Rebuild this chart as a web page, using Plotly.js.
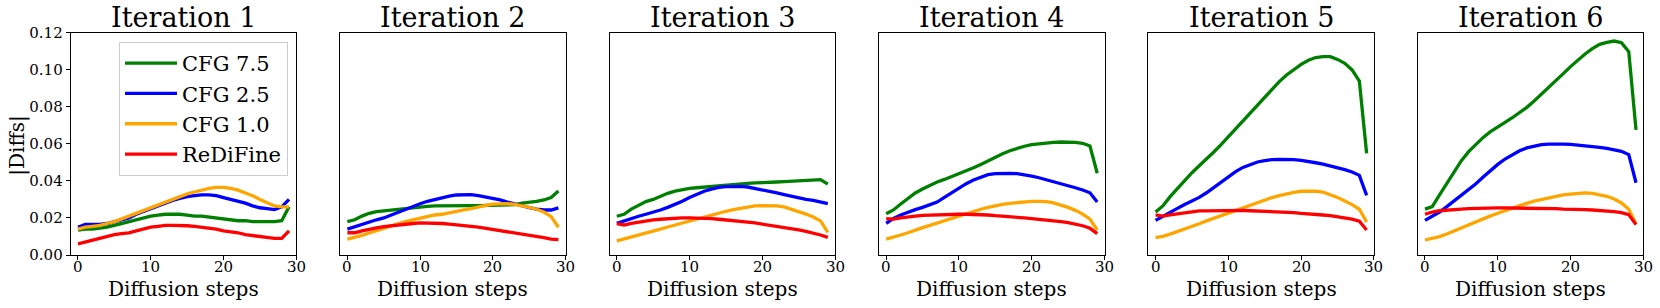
<!DOCTYPE html>
<html>
<head>
<meta charset="utf-8">
<script src="https://cdn.plot.ly/plotly-3.0.1.min.js"></script>
<style>html,body{margin:0;padding:0;background:#fff;}#chart{width:1660px;height:308px;}</style>
</head>
<body>
<div id="chart"></div>
<script>
const steps = [0,1,2,3,4,5,6,7,8,9,10,11,12,13,14,15,16,17,18,19,20,21,22,23,24,25,26,27,28,29];
const panelTitles = ["Iteration 1","Iteration 2","Iteration 3","Iteration 4","Iteration 5","Iteration 6"];
const seriesNames = ["CFG 7.5","CFG 2.5","CFG 1.0","ReDiFine"];
const seriesColors = ["#008000","#0000ff","#ffa500","#ff0000"];
const yTickVals = [0,0.02,0.04,0.06,0.08,0.10,0.12];
const xTickVals = [0,10,20,30];
const xTickText = ["0","10","20","30"];

const cfg75 = [
  [.0135,.014,.014,.0145,.015,.016,.017,.018,.019,.020,.021,.0215,.022,.022,.022,.0215,.021,.021,.0205,.020,.0195,.019,.0185,.0185,.018,.018,.018,.018,.0185,.026],
  [.018,.019,.021,.0225,.0234,.0238,.0243,.025,.0254,.0257,.026,.0263,.0265,.0266,.0266,.0266,.0266,.0266,.0266,.0267,.027,.027,.027,.0272,.028,.0284,.029,.0297,.031,.0345],
  [.0209,.022,.0248,.027,.0288,.030,.0318,.0333,.0345,.0354,.036,.0363,.0367,.037,.0374,.0378,.038,.0385,.0387,.0389,.0392,.0392,.0394,.0396,.0398,.040,.0401,.0403,.0407,.0383],
  [.0223,.0243,.0275,.0306,.0335,.0356,.0376,.0394,.0408,.0423,.0437,.0453,.0471,.0489,.0509,.0527,.0547,.0563,.0576,.0587,.0596,.0601,.0605,.0608,.061,.061,.0608,.0603,.0588,.0441],
  [.0232,.0265,.0315,.036,.0405,.0444,.0482,.0518,.0556,.0596,.0639,.0682,.0725,.0768,.0813,.0855,.0896,.0936,.0972,.1002,.1029,.1051,.1066,.1071,.1071,.1056,.1035,.0999,.0939,.0549],
  [.0248,.0261,.0324,.0387,.045,.0509,.0558,.0599,.0635,.0666,.0693,.0716,.0741,.0768,.0797,.0831,.0867,.0903,.0941,.0979,.1017,.1053,.1085,.1114,.1137,.1148,.1155,.1146,.1098,.0675]
];
const cfg25 = [
  [.015,.0165,.0165,.0165,.017,.018,.019,.020,.022,.0235,.025,.0265,.028,.0295,.0305,.0315,.032,.0325,.0325,.032,.031,.030,.029,.028,.0265,.0255,.025,.0245,.026,.030],
  [.014,.0153,.0167,.018,.019,.020,.0216,.023,.0247,.026,.0277,.029,.030,.031,.0318,.0324,.0326,.0326,.032,.0313,.0306,.0297,.0286,.0275,.0265,.0256,.0248,.0243,.0243,.0254],
  [.0171,.0185,.0198,.0209,.022,.023,.0243,.0257,.0273,.029,.031,.0327,.0344,.0356,.0365,.0369,.037,.037,.0367,.036,.0353,.0344,.0335,.0326,.0317,.0308,.030,.0295,.0288,.0277],
  [.0171,.0198,.0216,.0232,.0245,.0257,.027,.0286,.0311,.0336,.0363,.0385,.0405,.0421,.0434,.0439,.0441,.0441,.0439,.0434,.0426,.0417,.0407,.0396,.0385,.0374,.0363,.0351,.0336,.0286],
  [.0187,.021,.023,.0252,.0273,.0291,.0311,.0336,.0365,.0394,.0423,.045,.0473,.0489,.0502,.0509,.0515,.0516,.0516,.0515,.0511,.0506,.0498,.0491,.0482,.0471,.0461,.0448,.043,.0322],
  [.0187,.0207,.0232,.0261,.0291,.0322,.0353,.0385,.0421,.0457,.0489,.0518,.0543,.0563,.0578,.0588,.0596,.0599,.0601,.0599,.0597,.0594,.059,.0587,.0581,.0576,.0569,.056,.0542,.039]
];
const cfg10 = [
  [.014,.015,.0155,.016,.017,.018,.0195,.021,.0225,.024,.0255,.027,.0285,.030,.0315,.033,.034,.035,.036,.0365,.0365,.036,.035,.0335,.032,.030,.028,.0265,.026,.026],
  [.0086,.0095,.0106,.0119,.013,.0144,.0157,.017,.018,.019,.020,.021,.0216,.022,.0229,.0236,.0243,.025,.026,.0268,.0275,.0277,.0277,.0273,.0266,.0257,.0247,.0232,.0207,.015],
  [.0076,.0086,.0097,.0108,.0119,.013,.014,.0151,.0162,.0173,.0184,.0194,.0205,.0216,.0227,.0236,.0245,.0252,.026,.0265,.0266,.0266,.0265,.026,.0248,.0236,.0221,.0205,.0184,.0122],
  [.0086,.0095,.0108,.012,.0135,.0148,.016,.0173,.0185,.0198,.021,.0223,.0236,.0247,.0257,.0266,.0273,.0279,.0284,.0288,.029,.029,.0288,.0281,.027,.0257,.0241,.0221,.0194,.0135],
  [.0094,.0101,.0113,.0126,.014,.0155,.0169,.0184,.0198,.0212,.0227,.0241,.0256,.027,.0284,.0297,.031,.032,.0331,.0338,.0344,.0345,.0345,.034,.0327,.0311,.0291,.0272,.0247,.0178],
  [.0081,.0088,.0099,.0113,.013,.0146,.0162,.0178,.0194,.0211,.0225,.0239,.0254,.0266,.0279,.0291,.030,.031,.0317,.0324,.0329,.0333,.0335,.0333,.0327,.0317,.0302,.0281,.0247,.0167]
];
const rediFine = [
  [.006,.007,.008,.009,.010,.011,.0115,.012,.013,.014,.015,.0155,.016,.016,.016,.0158,.0155,.015,.0145,.014,.013,.0125,.012,.011,.0105,.010,.0095,.009,.009,.013],
  [.012,.012,.013,.014,.0146,.0153,.0158,.0164,.0167,.017,.0173,.0173,.017,.017,.0167,.0164,.0158,.0155,.015,.0144,.0139,.0133,.0128,.012,.0115,.0108,.010,.0094,.0086,.0083],
  [.0169,.0162,.0171,.0178,.0184,.019,.0193,.0196,.0198,.020,.020,.020,.0198,.0196,.0193,.019,.0185,.0182,.0178,.0173,.0167,.0162,.0157,.015,.0142,.0135,.0128,.0119,.0108,.0095],
  [.0196,.0194,.020,.0207,.021,.0214,.0216,.0216,.0218,.022,.022,.022,.022,.0218,.0216,.0212,.021,.0207,.0203,.020,.0196,.0193,.019,.0185,.018,.0175,.0167,.0158,.0144,.0115],
  [.0216,.021,.0216,.0221,.0227,.023,.0238,.0238,.0239,.0239,.0241,.0241,.0241,.0239,.0238,.0236,.0234,.0232,.023,.0229,.0225,.0223,.022,.0216,.0212,.0207,.0202,.0194,.0182,.0135],
  [.022,.0232,.0239,.0243,.0247,.0248,.025,.0252,.0252,.0254,.0254,.0254,.0254,.0254,.0252,.0252,.0252,.025,.025,.0248,.0248,.0247,.0245,.0243,.0241,.0238,.0234,.0229,.0218,.0164]
];

const FONT = "DejaVu Serif";
const W = 1660, H = 308;
const panelLeft = [70.7, 340.1, 609.5, 878.9, 1148.3, 1417.7];
const panelWidth = 225.6;
const plotTop = 32.7, plotBottom = 255;

const allSeries = [cfg75, cfg25, cfg10, rediFine];
const traces = [];
for (let p = 0; p < 6; p++) {
  const ax = p === 0 ? "" : String(p + 1);
  for (let s = 0; s < 4; s++) {
    traces.push({
      x: steps, y: allSeries[s][p], type: "scatter", mode: "lines",
      name: seriesNames[s], xaxis: "x" + ax, yaxis: "y" + ax,
      line: {color: seriesColors[s], width: 3.3},
      showlegend: p === 0
    });
  }
}

const layout = {
  width: W, height: H, margin: {l: 0, r: 0, t: 0, b: 0},
  paper_bgcolor: "#fff", plot_bgcolor: "#fff",
  font: {family: FONT, color: "#000", size: 15},
  showlegend: true,
  legend: {
    x: 119 / W, y: 1 - 42 / H, xanchor: "left", yanchor: "top",
    bgcolor: "rgba(255,255,255,0.8)", bordercolor: "#cccccc", borderwidth: 1,
    font: {family: FONT, size: 21, color: "#000"},
    itemwidth: 52, traceorder: "normal"
  },
  annotations: []
};

for (let p = 0; p < 6; p++) {
  const ax = p === 0 ? "" : String(p + 1);
  const d0 = panelLeft[p] / W, d1 = (panelLeft[p] + panelWidth) / W;
  layout["xaxis" + ax] = {
    domain: [d0, d1], range: [-1, 30], anchor: "y" + ax,
    tickmode: "array", tickvals: xTickVals, ticks: "outside", ticklen: 4, tickwidth: 1, tickcolor: "#000",
    showticklabels: false,
    showline: true, linecolor: "#000", linewidth: 1, mirror: true,
    showgrid: false, zeroline: false
  };
  layout["yaxis" + ax] = {
    domain: [1 - plotBottom / H, 1 - plotTop / H], range: [0, 0.12], anchor: "x" + ax,
    showline: true, linecolor: "#000", linewidth: 1, mirror: true,
    showgrid: false, zeroline: false,
    tickmode: "array", tickvals: yTickVals,
    showticklabels: p === 0, ticks: p === 0 ? "outside" : "", ticklen: 4, tickwidth: 1, tickcolor: "#000",
    tickformat: ".2f",
    tickfont: {family: FONT, size: 15, color: "#000"}
  };
  xTickVals.forEach((v, i) => {
    layout.annotations.push({
      text: xTickText[i], xref: "x" + ax, yref: "paper", x: v, y: 1 - 267 / H,
      xanchor: "center", yanchor: "middle", showarrow: false,
      font: {family: FONT, size: 15, color: "#000"}
    });
  });
  const cx = (d0 + d1) / 2;
  layout.annotations.push({
    text: panelTitles[p], xref: "paper", yref: "paper", x: cx, y: 1 - 17.5 / H,
    xanchor: "center", yanchor: "middle", showarrow: false,
    font: {family: FONT, size: 27, color: "#000"}
  });
  layout.annotations.push({
    text: "Diffusion steps", xref: "paper", yref: "paper", x: cx, y: 1 - 289 / H,
    xanchor: "center", yanchor: "middle", showarrow: false,
    font: {family: FONT, size: 20, color: "#000"}
  });
}
layout.annotations.push({
  text: "|Diffs|", xref: "paper", yref: "paper", x: 16.7 / W, y: 1 - 146 / H,
  xanchor: "center", yanchor: "middle", showarrow: false, textangle: -90,
  font: {family: FONT, size: 20, color: "#000"}
});

Plotly.newPlot("chart", traces, layout, {displayModeBar: false, staticPlot: true});
</script>
</body>
</html>
